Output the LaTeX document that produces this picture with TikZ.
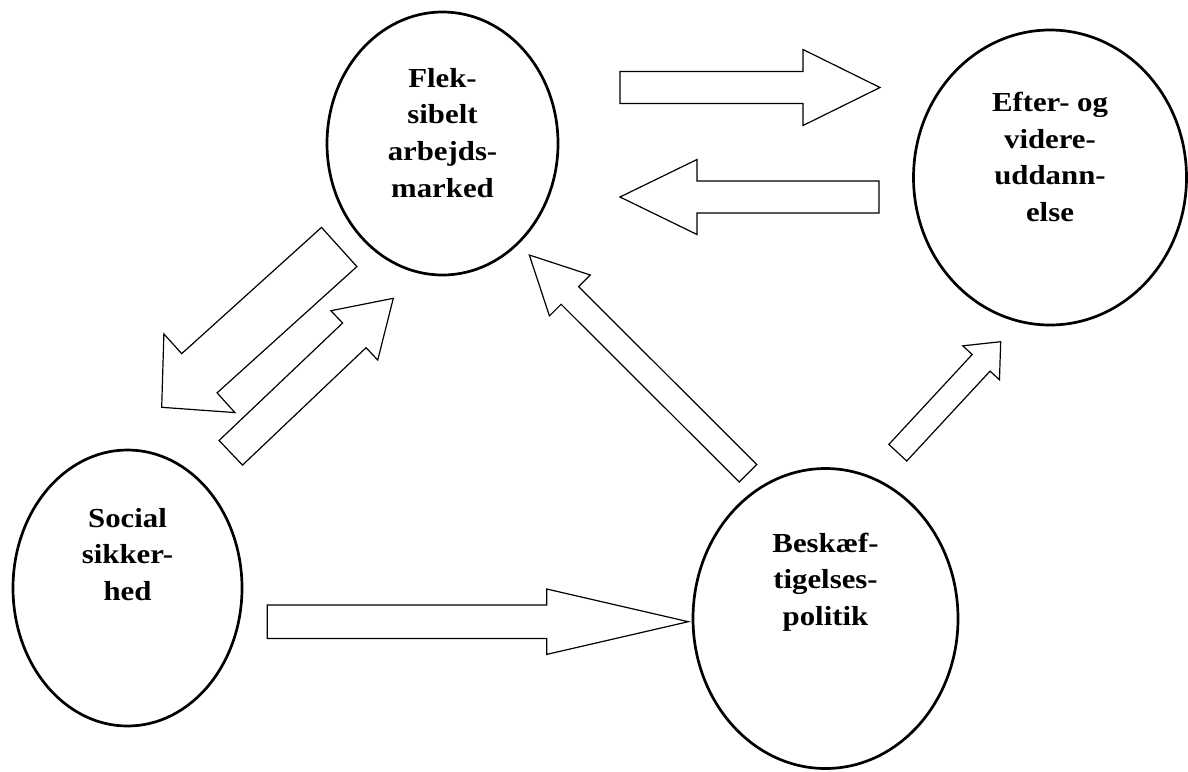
\documentclass[tikz,border=0pt]{standalone}
\usepackage{fontspec}
\setmainfont{Liberation Serif}[FakeStretch=1.12]
\usetikzlibrary{calc,shapes.geometric}

\tikzset{
  felt/.style={ellipse, draw, line width=2.7pt, inner sep=0pt},
  tekst/.style={align=center, anchor=north, inner sep=0pt, font=\bfseries\fontsize{27.5pt}{36.7pt}\selectfont},
  pil/.style={draw, fill=white, line width=1.2pt, line join=miter},
}

% #1 name, #2 tail, #3 tip, #4 shaft half width, #5 head half width, #6 head length
\newcommand{\blokpil}[6]{%
  \coordinate (#1-hale) at #2;
  \coordinate (#1-spids) at #3;
  \coordinate (#1-hals) at ($(#1-spids)!#6pt!(#1-hale)$);
  \draw[pil] ($(#1-hale)!#4pt!90:(#1-spids)$) -- ($(#1-hals)!#4pt!90:(#1-spids)$)
    -- ($(#1-hals)!#5pt!90:(#1-spids)$) -- (#1-spids)
    -- ($(#1-hals)!#5pt!-90:(#1-spids)$) -- ($(#1-hals)!#4pt!-90:(#1-spids)$)
    -- ($(#1-hale)!#4pt!-90:(#1-spids)$) -- cycle;
}

\begin{document}
\begin{tikzpicture}[x=1pt, y=-1pt]
\useasboundingbox (0,0) rectangle (1188,771);
% felter
\node[felt, minimum width=231pt, minimum height=263pt] (flek) at (442.5,143.5) {}; % flek
\node[felt, minimum width=273pt, minimum height=295pt] (efter) at (1050,177.5) {}; % efter
\node[felt, minimum width=229pt, minimum height=276pt] (social) at (127.5,588) {}; % social
\node[felt, minimum width=265pt, minimum height=300pt] (beskaef) at (825.5,618.5) {}; % beskaef
% tekster
\node[tekst] (flek-tekst) at (442.5,68) {Flek-\\sibelt\\arbejds-\\marked};
\node[tekst] (efter-tekst) at (1050,92) {Efter- og\\videre-\\uddann-\\else};
\node[tekst] (social-tekst) at (127.5,508) {Social\\sikker-\\hed};
\node[tekst] (beskaef-tekst) at (825.5,532.5) {Beskæf-\\tigelses-\\politik};
% pile
\blokpil{flek-efter}{(620,87.5)}{(880,87.5)}{16}{38}{77}
\blokpil{efter-flek}{(879,197)}{(620,197)}{16}{37.5}{77}
\blokpil{flek-social}{(339.2,247)}{(161.7,407.3)}{26.4}{53}{50.8}
\blokpil{social-flek}{(230.8,452.8)}{(393.3,298.3)}{17}{34}{53.8}
\blokpil{beskaef-flek}{(748,473.2)}{(529.3,255)}{12.4}{28.9}{57.3}
\blokpil{beskaef-efter}{(897.8,452.7)}{(1000.7,341.7)}{12.2}{25}{28.8}
\blokpil{social-beskaef}{(267.3,621.7)}{(688.3,621.7)}{16.7}{32.7}{141.6}
\end{tikzpicture}
\end{document}
